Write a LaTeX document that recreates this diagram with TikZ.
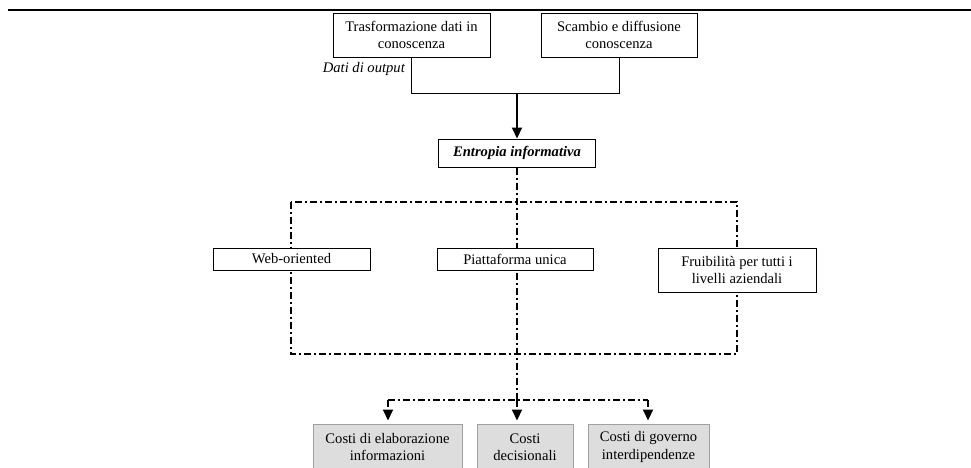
\documentclass[tikz,border=0pt]{standalone}
\usepackage{fontspec}
\setmainfont{Liberation Serif}
\usetikzlibrary{arrows.meta}
\definecolor{boxgray}{HTML}{DDDDDD}
\definecolor{boxedge}{HTML}{A0A0A0}
\begin{document}
\begin{tikzpicture}[x=1pt,y=-1pt,
  txt/.style={font=\fontsize{14.6}{17.5}\selectfont},
  wbox/.style={txt, draw, fill=white, line width=1pt, inner sep=0pt, align=center},
  gbox/.style={txt, draw=boxedge, fill=boxgray, line width=1pt, inner sep=0pt, align=center},
  dd/.style={line width=2pt, dash pattern=on 7pt off 3pt on 2pt off 3pt},
  tip/.style={-{Triangle[width=10pt,length=11pt]}}
]
\useasboundingbox (0,0) rectangle (971,467);
\clip (0,0) rectangle (971,467);
% top rule
\coordinate (r1) at (8,10);
\coordinate (r2) at (971,10);
\draw[line width=2pt] (r1) -- (r2);

% top boxes
\node[wbox, minimum width=157pt, minimum height=44pt] (t1) at (411.5,35) {Trasformazione dati in\\conoscenza};
\node[wbox, minimum width=156pt, minimum height=44pt] (t2) at (619,35) {Scambio e diffusione\\conoscenza};
\node[txt, font=\fontsize{14.6}{17.5}\selectfont\itshape, anchor=east, inner sep=0pt] (dati) at (405,69) {Dati di output};

\node[wbox, minimum width=157pt, minimum height=28pt, font=\fontsize{14.6}{17.5}\selectfont\bfseries\itshape] (ent) at (517,153) {Entropia informativa};

\coordinate (jl) at (411.5,93);
\coordinate (jr) at (619,93);
\coordinate (jm) at (517,93);
\draw[line width=1pt] (t1.south) -- (jl) -- (jr) -- (t2.south);
\draw[line width=2pt, tip] (jm) -- (ent.north);

% dash-dot frame
\coordinate (dTL) at (291,202);
\coordinate (dBR) at (737,354);
\coordinate (lm) at (517,400);
\coordinate (ll) at (388,400);
\coordinate (lr) at (648,400);
\draw[dd] (dTL) rectangle (dBR);
\draw[dd] (ent.south) -- (lm);
\draw[dd] (ll) -- (lr);

% middle boxes
\node[wbox, minimum width=157pt, minimum height=22pt] (web) at (291.5,259) {Web-oriented};
\node[wbox, minimum width=156pt, minimum height=22pt] (pia) at (515,259) {Piattaforma unica};
\node[wbox, minimum width=158pt, minimum height=44pt] (fru) at (737,270) {Fruibilità per tutti i\\livelli aziendali};

% bottom boxes
\node[gbox, minimum width=149pt, minimum height=46pt] (c1) at (387.5,447) {Costi di elaborazione\\informazioni};
\node[gbox, minimum width=96pt, minimum height=46pt] (c2) at (525,447) {Costi\\decisionali};
\node[gbox, minimum width=121pt, minimum height=46pt] (c3) at (648.5,447) {Costi di governo\\interdipendenze};

\draw[dd, tip, shorten >=3pt] (ll) -- (c1.north -| ll);
\draw[dd, tip, shorten >=3pt] (lm) -- (c2.north -| lm);
\draw[dd, tip, shorten >=3pt] (lr) -- (c3.north -| lr);
\end{tikzpicture}
\end{document}
